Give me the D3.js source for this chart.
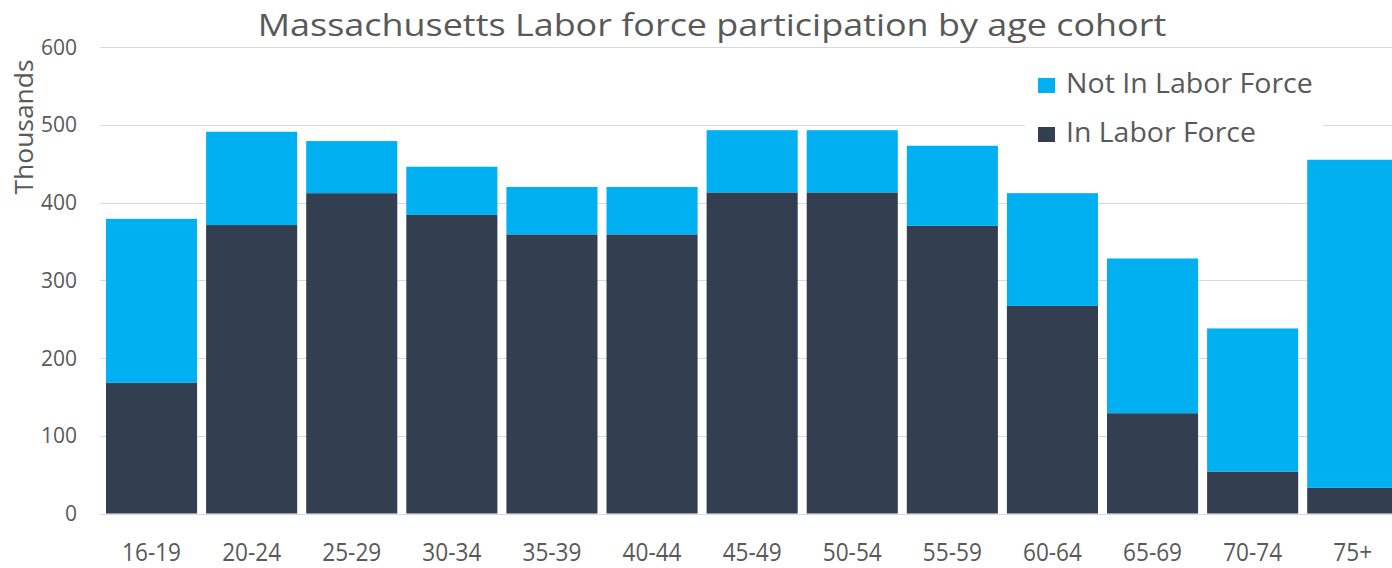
<!DOCTYPE html>
<html>
<head>
<meta charset="utf-8">
<script src="https://cdn.jsdelivr.net/npm/d3@7"></script>
<style>
  html, body { margin: 0; padding: 0; background: #fff; }
  svg text { font-family: 'Open Sans', 'Noto Sans', sans-serif; fill: #595959; }
</style>
</head>
<body>
<div id="chart"></div>
<script>
// ////////////////////////////////////////////////////////////////////////////
// DATA
// ////////////////////////////////////////////////////////////////////////////
const ageGroups = ['16-19', '20-24', '25-29', '30-34', '35-39', '40-44', '45-49',
  '50-54', '55-59', '60-64', '65-69', '70-74', '75+'];
const inLaborForce = [168, 371, 412, 384, 359, 359, 413, 413, 370, 267, 129, 54, 33];
const notInLaborForce = [211, 120, 67, 62, 61, 61, 80, 80, 103, 145, 199, 184, 422];
const yTicks = [0, 100, 200, 300, 400, 500, 600];
const seriesNames = ['In Labor Force', 'Not In Labor Force'];

const colors = { inLabor: '#333F50', notIn: '#00B0F0' };

// ////////////////////////////////////////////////////////////////////////////
// SETUP
// ////////////////////////////////////////////////////////////////////////////
const W = 1392;
const H = 568;

const svg = d3.select('#chart').append('svg')
  .attr('width', W)
  .attr('height', H);

const y = d3.scaleLinear()
  .domain([0, 600])
  .range([513.5, 47]);

const x = d3.scaleBand()
  .domain(ageGroups)
  .range([101.5, 1402.8])
  .paddingInner(0.09)
  .paddingOuter(0.045);

const rows = ageGroups.map((age, i) => ({ age, inLabor: inLaborForce[i], notIn: notInLaborForce[i] }));
const stacked = d3.stack().keys(['inLabor', 'notIn'])(rows);

// squeeze text horizontally so it takes the width the Calibri original did
function squeeze(sel, ax, ay, targetWidth) {
  const w = sel.node().getComputedTextLength();
  sel.attr('x', 0).attr('y', 0)
    .attr('transform', `translate(${ax},${ay}) scale(${targetWidth / w},1)`);
}

// ////////////////////////////////////////////////////////////////////////////
// GRID + AXES
// ////////////////////////////////////////////////////////////////////////////
svg.append('g').selectAll('line')
  .data(yTicks)
  .enter().append('line')
    .attr('x1', 100)
    .attr('x2', W)
    .attr('y1', d => Math.round(y(d)) + 0.5)
    .attr('y2', d => Math.round(y(d)) + 0.5)
    .attr('stroke', '#d9d9d9')
    .attr('stroke-width', 1.2);

svg.append('g').selectAll('text')
  .data(yTicks)
  .enter().append('text')
    .attr('x', 77)
    .attr('y', d => y(d))
    .attr('dy', '0.36em')
    .style('text-anchor', 'end')
    .style('font-size', '21px')
    .text(d => d);

const yTitle = svg.append('text')
  .style('font-size', '25px')
  .style('text-anchor', 'middle')
  .text('Thousands');
const ytw = yTitle.node().getComputedTextLength();
yTitle.attr('transform', `translate(33,127) rotate(-90) scale(${135 / ytw},1)`);

// ////////////////////////////////////////////////////////////////////////////
// BARS
// ////////////////////////////////////////////////////////////////////////////
svg.append('g').selectAll('g')
  .data(stacked)
  .enter().append('g')
    .attr('fill', d => colors[d.key])
  .selectAll('rect')
  .data(d => d)
  .enter().append('rect')
    .attr('x', d => x(d.data.age))
    .attr('y', d => y(d[1]))
    .attr('width', x.bandwidth())
    .attr('height', d => y(d[0]) - y(d[1]));

// x labels
const xLabels = svg.append('g').selectAll('text')
  .data(ageGroups)
  .enter().append('text')
    .style('font-size', '25px')
    .style('text-anchor', 'middle')
    .text(d => d);
const labelScale = 59 / xLabels.node().getComputedTextLength();
xLabels.attr('transform', d => `translate(${x(d) + x.bandwidth() / 2},561) scale(${labelScale},1)`);

// ////////////////////////////////////////////////////////////////////////////
// TITLE + LEGEND
// ////////////////////////////////////////////////////////////////////////////
const title = svg.append('text')
  .style('font-size', '31px')
  .style('text-anchor', 'middle')
  .text('Massachusetts Labor force participation by age cohort');
squeeze(title, 712, 36, 909);

const legend = svg.append('g');
legend.append('rect')
  .attr('x', 1025)
  .attr('y', 58)
  .attr('width', 298)
  .attr('height', 94)
  .attr('fill', '#fff');

const legendItems = [
  { name: seriesNames[1], color: colors.notIn, y: 93, w: 247 },
  { name: seriesNames[0], color: colors.inLabor, y: 142, w: 190 },
];
legendItems.forEach((d) => {
  legend.append('rect')
    .attr('x', 1038)
    .attr('y', d.y - 15)
    .attr('width', 17)
    .attr('height', 15)
    .attr('fill', d.color);
  const t = legend.append('text')
    .style('font-size', '27px')
    .text(d.name);
  squeeze(t, 1066, d.y, d.w);
});
</script>
</body>
</html>
